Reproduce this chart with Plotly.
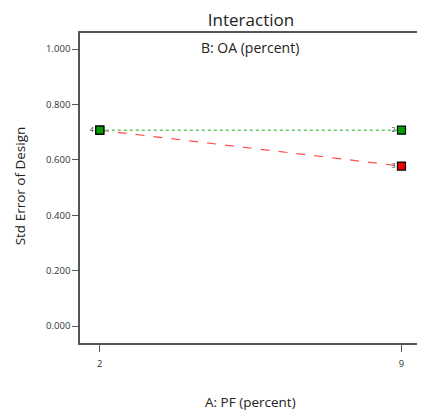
import plotly.graph_objects as go

pf_levels = [2, 9]
oa_low_se = [0.7071, 0.5774]   # red series
oa_high_se = [0.7071, 0.7071]  # green series
low_labels = ["", "3"]
high_labels = ["4", "2"]
y_ticks = [0.0, 0.2, 0.4, 0.6, 0.8, 1.0]
y_tick_text = ["0.000", "0.200", "0.400", "0.600", "0.800", "1.000"]

font_family = "Open Sans, Noto Sans, sans-serif"

# page body has an 8px margin: figure drawn at (8, 8)
W, H = 417, 405
L, R, T, B = 72, 3, 25, 70
pw, ph = W - L - R, H - T - B

fig = go.Figure()
fig.add_trace(go.Scatter(
    x=pf_levels, y=oa_low_se, mode="lines+markers+text",
    line=dict(color="#ff4d4d", dash="dash", width=1.2),
    marker=dict(symbol="square", size=8, color="#ee0000", line=dict(color="black", width=1.2)),
    text=low_labels, textposition="middle left",
    textfont=dict(size=7, color="#333333", family=font_family),
    showlegend=False, cliponaxis=False))
fig.add_trace(go.Scatter(
    x=pf_levels, y=oa_high_se, mode="lines+markers+text",
    line=dict(color="#66cc66", dash="dot", width=1.5),
    marker=dict(symbol="square", size=8, color="#00a000", line=dict(color="black", width=1.2)),
    text=high_labels, textposition="middle left",
    textfont=dict(size=7, color="#333333", family=font_family),
    showlegend=False, cliponaxis=False))

fig.update_layout(
    width=W, height=H,
    margin=dict(l=L, r=R, t=T, b=B),
    paper_bgcolor="white", plot_bgcolor="white",
    font=dict(family=font_family, color="#333333"),
    title=dict(text="Interaction", x=(L + pw / 2) / W, xanchor="center",
               y=1 - 12 / H, yanchor="middle",
               font=dict(size=17, color="#222222", family=font_family)),
    xaxis=dict(range=[1.54, 9.43], tickvals=pf_levels, ticktext=[str(v) for v in pf_levels],
               ticks="outside", ticklen=7, tickcolor="#555555", tickwidth=1,
               ticklabelstandoff=4,
               showline=True, linecolor="#555555", linewidth=1.5, mirror=True,
               showgrid=False, zeroline=False,
               tickfont=dict(size=9.5, color="#333333")),
    yaxis=dict(range=[-0.0614, 1.058], tickvals=y_ticks, ticktext=y_tick_text,
               ticks="outside", ticklen=6, tickcolor="#555555", tickwidth=1,
               showline=True, linecolor="#555555", linewidth=1.5, mirror=True,
               showgrid=False, zeroline=False,
               tickfont=dict(size=9.5, color="#333333")),
    annotations=[
        dict(text="B: OA (percent)", xref="paper", yref="paper", x=0.5, y=(ph - 14) / ph,
             xanchor="center", yanchor="middle", showarrow=False,
             font=dict(size=14, color="#222222", family=font_family)),
        dict(text="A: PF (percent)", xref="paper", yref="paper", x=0.5, y=-(394 - (T + ph)) / ph,
             xanchor="center", yanchor="middle", showarrow=False,
             font=dict(size=13.5, color="#222222", family=font_family)),
        dict(text="Std Error of Design", xref="paper", yref="paper", x=(12 - L) / pw,
             y=(T + ph - (186 - 8)) / ph, xanchor="center", yanchor="middle",
             textangle=-90, showarrow=False,
             font=dict(size=13.5, color="#222222", family=font_family)),
    ],
)

fig.write_html("out.html")
